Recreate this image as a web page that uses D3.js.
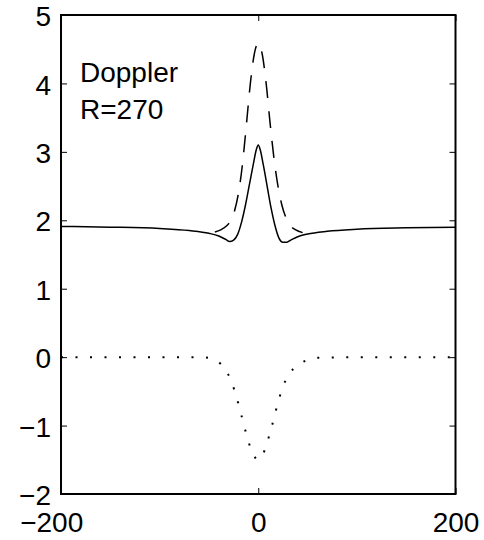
<!DOCTYPE html>
<html>
<head>
<meta charset="utf-8">
<script src="https://cdn.jsdelivr.net/npm/d3@7"></script>
<style>
  html, body { margin: 0; padding: 0; background: #fff; }
  svg { display: block; }
  text { font-family: "Liberation Sans", Arial, Helvetica, sans-serif; }
</style>
</head>
<body>
<svg id="chart" width="484" height="540"></svg>
<script>
// ---- data ----
const xTicks = [-200, 0, 200];
const yTicks = [-2, -1, 0, 1, 2, 3, 4, 5];
const labelLines = ["Doppler", "R=270"];

const solidX = [-200,-150,-100,-70,-50,-40,-33,-29,-25,-21,-17,-13,-9,-5,-2,0,2,5,9,13,17,21,25,29,33,40,50,70,100,150,200];
const solidY = [1.91,1.90,1.88,1.85,1.81,1.77,1.72,1.69,1.71,1.79,1.97,2.22,2.52,2.82,3.03,3.10,3.03,2.82,2.50,2.18,1.92,1.74,1.68,1.68,1.71,1.76,1.80,1.84,1.87,1.89,1.90];

const dashedX = [-44,-38,-32,-28,-24,-20,-16,-12,-8,-4,0,4,8,12,16,20,24,28,32,38,45];
const dashedY = [1.83,1.86,1.92,1.99,2.14,2.40,2.82,3.40,4.00,4.43,4.59,4.43,4.00,3.42,2.90,2.50,2.22,2.04,1.93,1.86,1.82];

const dottedX = [-200,-150,-100,-60,-50,-44,-38,-32,-28,-24,-20,-16,-12,-8,-4,0,4,8,12,16,20,24,28,32,38,44,50,60,100,150,200];
const dottedY = [0,0,0,0,-0.01,-0.04,-0.10,-0.21,-0.33,-0.49,-0.69,-0.91,-1.13,-1.32,-1.45,-1.50,-1.44,-1.30,-1.10,-0.89,-0.66,-0.48,-0.33,-0.23,-0.14,-0.08,-0.04,-0.01,0,0,0];

// ---- layout ----
const W = 484, H = 540;
const m = { left: 61, right: 28.5, top: 15, bottom: 46 };
const svg = d3.select("#chart");

const x = d3.scaleLinear().domain([-200, 200]).range([m.left, W - m.right]);
const y = d3.scaleLinear().domain([-2, 5]).range([H - m.bottom, m.top]);

const fs = 28;

// axes with inward ticks
const gx = svg.append("g").attr("transform", `translate(0,${y(-2)})`)
  .call(d3.axisBottom(x).tickValues(xTicks).tickSize(-6).tickPadding(18).tickFormat(d3.format("d")));
const gxt = svg.append("g").attr("transform", `translate(0,${y(5)})`)
  .call(d3.axisTop(x).tickValues(xTicks).tickSize(-6).tickFormat(""));
const gy = svg.append("g").attr("transform", `translate(${x(-200)},0)`)
  .call(d3.axisLeft(y).tickValues(yTicks).tickSize(-6).tickPadding(10).tickFormat(d3.format("d")));
const gyr = svg.append("g").attr("transform", `translate(${x(200)},0)`)
  .call(d3.axisRight(y).tickValues(yTicks).tickSize(-6).tickFormat(""));

[gx, gxt, gy, gyr].forEach(g => {
  g.select(".domain").remove();
  g.selectAll(".tick line").attr("stroke", "#000").attr("stroke-width", 1);
  g.selectAll("text").attr("fill", "#000").attr("font-size", fs)
    .attr("font-family", '"Liberation Sans", Arial, Helvetica, sans-serif');
});
gx.selectAll("text").attr("dy", "0.71em").attr("dx", d => d < 0 ? "-0.35em" : 0);
gy.selectAll("text").attr("dy", "0.38em");

// box
svg.append("rect")
  .attr("x", x(-200)).attr("y", y(5))
  .attr("width", x(200) - x(-200)).attr("height", y(-2) - y(5))
  .attr("fill", "none").attr("stroke", "#000").attr("stroke-width", 2);

const line = d3.line().curve(d3.curveMonotoneX);

function draw(xs, ys, dash, width) {
  svg.append("path")
    .attr("d", line(xs.map((v, i) => [x(v), y(ys[i])])))
    .attr("fill", "none").attr("stroke", "#000")
    .attr("stroke-width", width)
    .attr("stroke-dasharray", dash);
}
draw(solidX, solidY, null, 1.5);
draw(dashedX, dashedY, "17,13", 1.5);
draw(dottedX, dottedY, "2,12.5", 2);

// annotation
svg.append("g").selectAll("text").data(labelLines).join("text")
  .attr("x", 80).attr("y", (d, i) => 82 + i * 37)
  .attr("font-size", fs).attr("fill", "#000").text(d => d);
</script>
</body>
</html>
